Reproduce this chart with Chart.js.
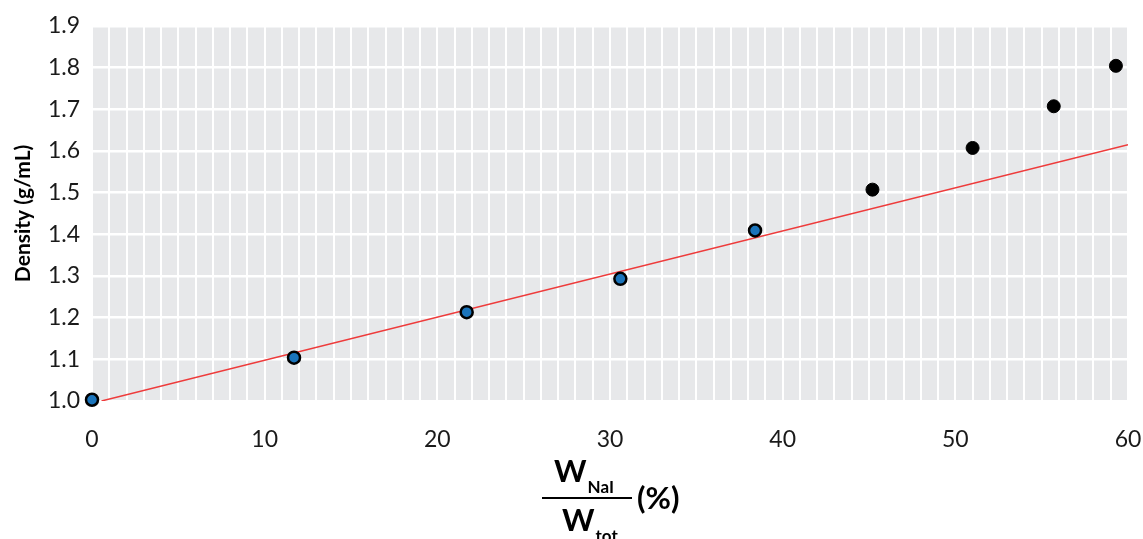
<!DOCTYPE html>
<html>
<head>
<meta charset="utf-8">
<script src="https://cdn.jsdelivr.net/npm/chart.js@4/dist/chart.umd.min.js"></script>
<style>
html,body{margin:0;padding:0;background:#fff;}
#wrap{width:1143px;height:539px;}
</style>
</head>
<body>
<div id="wrap"><canvas id="c" width="1143" height="539"></canvas></div>
<script>
// Data
const fitBlueX = [0, 11.7, 21.7, 30.6, 38.4];
const fitBlueY = [1.003, 1.104, 1.213, 1.293, 1.409];
const extraX = [45.2, 51.0, 55.7, 59.3];
const extraY = [1.507, 1.607, 1.707, 1.804];
const trendX = [0.55, 60];
const trendY = [1.0, 1.615];
const xTickLabels = [0, 10, 20, 30, 40, 50, 60];
const yTickLabels = ['1.0','1.1','1.2','1.3','1.4','1.5','1.6','1.7','1.8','1.9'];

const FONT = 'Lato, "Open Sans", sans-serif';
const TXT = '#1a1a1a';

const toPts = (xs, ys) => xs.map((x, i) => ({x: x, y: ys[i]}));

const bgPlugin = {
  id: 'plotBg',
  beforeDraw(chart) {
    const a = chart.chartArea, ctx = chart.ctx;
    ctx.save();
    ctx.fillStyle = '#e7e8ea';
    ctx.fillRect(a.left, a.top, a.right - a.left, a.bottom - a.top);
    ctx.restore();
  }
};

const xTitlePlugin = {
  id: 'xTitle',
  afterDraw(chart) {
    const a = chart.chartArea, ctx = chart.ctx;
    const cx = (a.left + a.right) / 2;
    const barY = a.bottom + 97;
    const barL = cx - 68, barR = cx + 22;
    ctx.save();
    ctx.fillStyle = '#000';
    ctx.strokeStyle = '#000';
    ctx.textBaseline = 'alphabetic';
    ctx.textAlign = 'left';
    // numerator
    ctx.font = 'bold 31px ' + FONT;
    const wW = ctx.measureText('W').width;
    ctx.fillText('W', barL + 12, barY - 16);
    ctx.font = 'bold 17px ' + FONT;
    ctx.fillText('NaI', barL + 12 + wW + 1, barY - 5);
    // bar
    ctx.lineWidth = 2;
    ctx.beginPath();
    ctx.moveTo(barL, barY);
    ctx.lineTo(barR, barY);
    ctx.stroke();
    // denominator
    ctx.font = 'bold 31px ' + FONT;
    ctx.fillText('W', barL + 20, barY + 33);
    ctx.font = 'bold 17px ' + FONT;
    ctx.fillText('tot.', barL + 20 + wW + 1, barY + 44);
    // (%)
    ctx.font = 'bold 31px ' + FONT;
    ctx.textBaseline = 'middle';
    ctx.fillText('(%)', barR + 5, barY + 1);
    ctx.restore();
  }
};

new Chart(document.getElementById('c'), {
  type: 'scatter',
  data: {
    datasets: [
      {
        label: 'measured (fit)',
        data: toPts(fitBlueX, fitBlueY),
        backgroundColor: '#1b74bb',
        borderColor: '#000',
        borderWidth: 2.5,
        pointRadius: 6,
        clip: false,
        order: 1
      },
      {
        label: 'measured',
        data: toPts(extraX, extraY),
        backgroundColor: '#000',
        borderColor: '#000',
        borderWidth: 1,
        pointRadius: 6.5,
        clip: false,
        order: 1
      },
      {
        label: 'linear fit',
        type: 'line',
        data: toPts(trendX, trendY),
        borderColor: '#ee3b3b',
        borderWidth: 1.5,
        pointRadius: 0,
        fill: false,
        tension: 0,
        order: 2
      }
    ]
  },
  options: {
    responsive: false,
    animation: false,
    devicePixelRatio: 1,
    layout: { padding: { left: 0, top: 25, right: 15, bottom: 0 } },
    plugins: {
      legend: { display: false },
      tooltip: { enabled: false }
    },
    scales: {
      x: {
        type: 'linear',
        min: 0, max: 60,
        border: { display: false },
        grid: { color: '#ffffff', lineWidth: 2, drawTicks: false },
        ticks: {
          stepSize: 1,
          autoSkip: false,
          maxRotation: 0,
          padding: 25,
          color: TXT,
          font: { family: FONT, size: 23 },
          callback: (v) => xTickLabels.includes(v) ? String(v) : ''
        },
        afterFit: (s) => { s.height = 138; s.paddingRight = 0; s.paddingLeft = 0; }
      },
      y: {
        type: 'linear',
        min: 1.0, max: 1.9,
        border: { display: false },
        grid: { color: '#ffffff', lineWidth: 2.5, drawTicks: false },
        ticks: {
          stepSize: 0.1,
          padding: 12,
          color: TXT,
          font: { family: FONT, size: 23 },
          callback: (v, i) => yTickLabels[i] !== undefined ? yTickLabels[i] : v.toFixed(1)
        },
        title: {
          display: true,
          text: 'Density (g/mL)',
          color: '#000',
          font: { family: FONT, size: 21, weight: 'bold' },
          padding: { top: 11, bottom: 0 }
        },
        afterFit: (s) => { s.width = 92; }
      }
    }
  },
  plugins: [bgPlugin, xTitlePlugin]
});
</script>
</body>
</html>
